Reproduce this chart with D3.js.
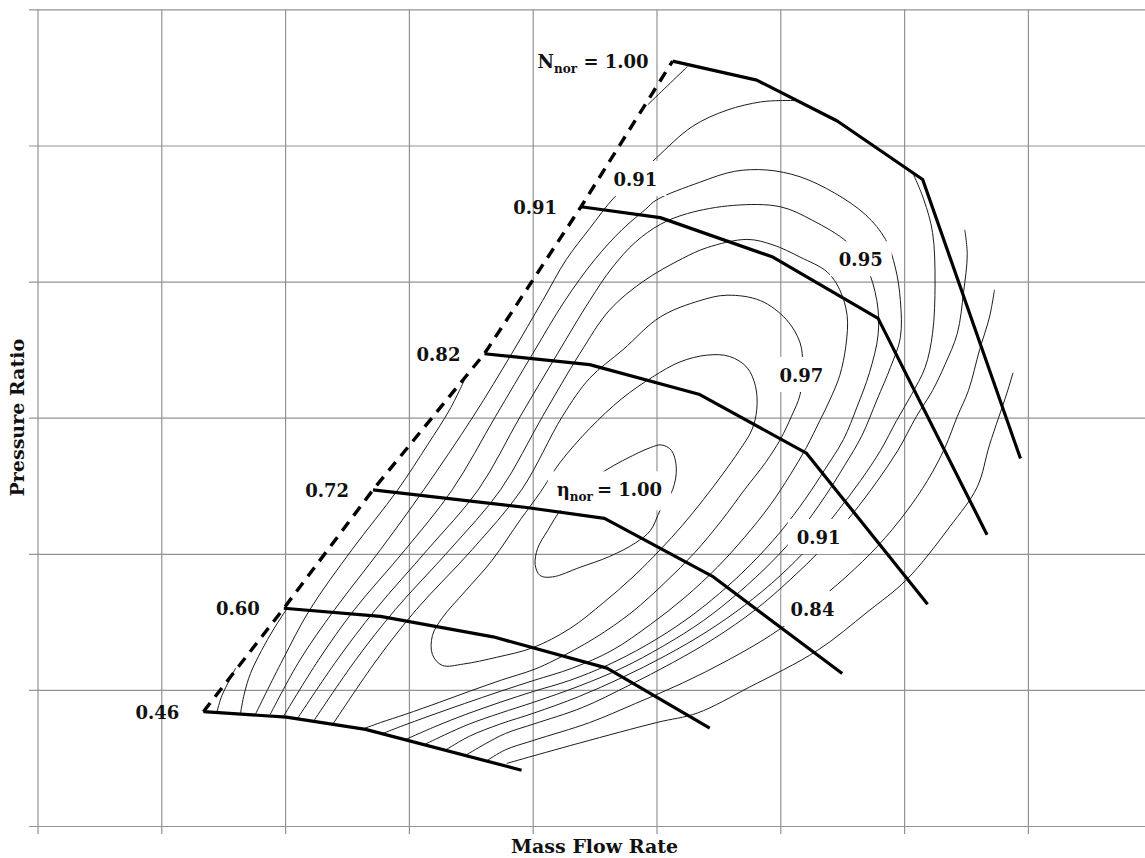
<!DOCTYPE html>
<html>
<head>
<meta charset="utf-8">
<script src="https://cdn.jsdelivr.net/npm/d3@7"></script>
<style>
  html, body { margin: 0; padding: 0; background: #fff; }
  svg { display: block; }
  text { font-family: "DejaVu Serif", serif; font-weight: bold; fill: #111; }
</style>
</head>
<body>
<svg id="chart" width="1145" height="858"></svg>
<script>
// Compressor map in grid units: mass flow 0–9, pressure ratio 0–6
const gridX = d3.range(0, 10);
const gridY = d3.range(0, 7);

// Constant-speed lines (normalized speed), left end sits on the surge line
const speedNames = ["0.46", "0.60", "0.72", "0.82", "0.91", "1.00"];
const speed046 = [[1.34,0.84],[2.01,0.80],[2.65,0.71],[3.91,0.41]];
const speed060 = [[1.99,1.60],[2.77,1.54],[3.68,1.39],[4.60,1.16],[5.43,0.72]];
const speed072 = [[2.71,2.47],[3.95,2.34],[4.58,2.26],[5.46,1.83],[6.50,1.12]];
const speed082 = [[3.61,3.47],[4.46,3.39],[5.35,3.17],[6.21,2.74],[7.19,1.63]];
const speed091 = [[4.39,4.55],[5.03,4.47],[5.94,4.18],[6.79,3.73],[7.67,2.14]];
const speed100 = [[5.13,5.62],[5.81,5.48],[6.46,5.18],[7.15,4.75],[7.94,2.70]];

// Efficiency islands (closed)
const eff100 = [[4.62,2.63],[4.76,2.70],[4.95,2.78],[5.04,2.80],[5.12,2.76],[5.16,2.63],[5.13,2.47],[5.03,2.32],[4.95,2.17],[4.83,2.08],[4.62,1.98],[4.38,1.90],[4.16,1.83],[4.06,1.84],[4.02,1.92],[4.04,2.04],[4.12,2.17],[4.24,2.34],[4.42,2.51]];
const eff099 = [[4.22,2.67],[4.46,2.92],[4.72,3.14],[4.97,3.30],[5.19,3.41],[5.41,3.46],[5.59,3.45],[5.73,3.37],[5.80,3.23],[5.81,3.06],[5.77,2.91],[5.67,2.76],[5.53,2.58],[5.38,2.40],[5.21,2.21],[5.03,2.03],[4.81,1.83],[4.57,1.64],[4.30,1.45],[4.00,1.31],[3.71,1.24],[3.44,1.19],[3.27,1.18],[3.19,1.26],[3.19,1.40],[3.27,1.53],[3.45,1.72],[3.67,1.95],[3.90,2.25],[4.06,2.45]];

// Efficiency contours open at the lowest speed line
const eff097 = [[2.38,0.74],[2.74,1.22],[3.06,1.59],[3.51,2.03],[3.91,2.47],[4.24,3.01],[4.46,3.29],[4.73,3.50],[5.03,3.74],[5.35,3.86],[5.57,3.90],[5.84,3.86],[6.05,3.72],[6.16,3.55],[6.18,3.39],[6.16,3.17],[6.09,3.01],[6.00,2.84],[5.88,2.67],[5.71,2.47],[5.53,2.25],[5.31,2.01],[5.07,1.79],[4.80,1.57],[4.50,1.38],[4.18,1.22],[4.01,1.15],[3.74,1.07],[3.49,0.99],[3.25,0.91],[2.97,0.82],[2.77,0.76],[2.62,0.71]];
const eff096 = [[2.23,0.77],[2.57,1.22],[2.89,1.59],[3.33,2.03],[3.74,2.47],[4.08,3.01],[4.38,3.47],[4.62,3.79],[4.89,4.00],[5.21,4.17],[5.41,4.25],[5.73,4.31],[5.94,4.27],[6.16,4.18],[6.38,4.07],[6.48,3.94],[6.54,3.75],[6.53,3.53],[6.48,3.31],[6.40,3.13],[6.32,2.98],[6.21,2.78],[6.08,2.58],[5.92,2.36],[5.71,2.12],[5.49,1.90],[5.23,1.68],[4.95,1.48],[4.64,1.29],[4.32,1.16],[4.01,1.07],[3.74,0.99],[3.45,0.90],[3.17,0.81],[2.93,0.73],[2.79,0.68]];
const eff095 = [[2.10,0.79],[2.42,1.22],[2.73,1.59],[3.15,2.03],[3.56,2.47],[3.90,3.01],[4.20,3.47],[4.46,3.86],[4.64,4.10],[4.83,4.29],[5.03,4.42],[5.25,4.50],[5.62,4.56],[6.00,4.55],[6.26,4.45],[6.54,4.29],[6.69,4.12],[6.78,3.86],[6.79,3.61],[6.72,3.33],[6.62,3.08],[6.51,2.84],[6.36,2.62],[6.20,2.40],[6.00,2.16],[5.77,1.93],[5.51,1.71],[5.23,1.51],[4.92,1.33],[4.60,1.18],[4.30,1.07],[4.01,0.99],[3.74,0.91],[3.46,0.82],[3.21,0.73],[2.96,0.63]];
const eff093 = [[1.99,0.81],[2.27,1.22],[2.56,1.59],[2.97,2.03],[3.35,2.47],[3.70,3.01],[4.00,3.47],[4.26,3.86],[4.50,4.16],[4.72,4.38],[4.91,4.53],[5.00,4.60],[5.35,4.73],[5.63,4.81],[5.89,4.82],[6.16,4.77],[6.44,4.65],[6.69,4.49],[6.85,4.31],[6.93,4.10],[6.97,3.86],[6.97,3.59],[6.89,3.37],[6.78,3.13],[6.66,2.87],[6.52,2.65],[6.36,2.42],[6.16,2.17],[5.93,1.94],[5.67,1.72],[5.38,1.51],[5.05,1.32],[4.72,1.16],[4.38,1.03],[4.01,0.91],[3.74,0.83],[3.49,0.75],[3.29,0.67],[3.13,0.60]];

// 0.91 contour is cut by the top speed line: low-flow part and high-flow part
const eff091Low = [[1.88,0.82],[2.12,1.22],[2.40,1.59],[2.77,2.03],[3.12,2.47],[3.52,3.01],[3.83,3.47],[4.08,3.86],[4.27,4.16],[4.46,4.39],[4.66,4.62],[4.83,4.76],[5.00,4.91],[5.29,5.14],[5.57,5.26],[5.84,5.32],[6.00,5.33],[6.13,5.33]];
const eff091High = [[7.07,4.80],[7.16,4.60],[7.23,4.36],[7.25,3.99],[7.23,3.62],[7.17,3.37],[7.06,3.17],[6.94,2.98],[6.81,2.76],[6.65,2.54],[6.46,2.31],[6.24,2.06],[6.00,1.84],[5.71,1.62],[5.41,1.43],[5.07,1.25],[4.72,1.09],[4.37,0.95],[4.01,0.83],[3.74,0.75],[3.49,0.66],[3.30,0.56]];

// Outer contours on the choke side
const eff088 = [[7.49,4.38],[7.51,4.20],[7.48,3.92],[7.43,3.62],[7.33,3.39],[7.23,3.20],[7.10,3.01],[6.95,2.76],[6.78,2.53],[6.58,2.29],[6.34,2.04],[6.08,1.81],[5.80,1.59],[5.47,1.38],[5.13,1.20],[4.77,1.03],[4.40,0.87],[4.01,0.75],[3.78,0.68],[3.61,0.60],[3.46,0.52]];
const eff084 = [[7.73,3.94],[7.69,3.74],[7.61,3.50],[7.52,3.20],[7.43,3.01],[7.33,2.78],[7.19,2.54],[7.01,2.30],[6.79,2.06],[6.53,1.83],[6.24,1.61],[5.92,1.40],[5.58,1.22],[5.21,1.05],[4.83,0.90],[4.46,0.76],[4.01,0.63],[3.78,0.56],[3.63,0.48]];
const eff080 = [[7.88,3.33],[7.83,3.18],[7.69,2.80],[7.59,2.49],[7.37,2.20],[7.02,1.81],[6.70,1.57],[6.30,1.29],[5.75,1.02],[5.33,0.83],[5.00,0.76],[4.38,0.61],[3.79,0.46]];

// Short contours ending on the surge line
const effSurgeA = [[1.45,0.84],[1.49,0.96],[1.55,1.07],[1.60,1.16]];
const effSurgeB = [[1.64,0.83],[1.67,0.97],[1.72,1.12],[1.81,1.29],[1.91,1.45],[2.01,1.59]];
const effSurgeC = [[1.76,0.82],[1.98,1.22],[2.20,1.59],[2.54,2.03],[2.91,2.47],[3.15,2.80],[3.33,3.06],[3.45,3.28]];
const effSurgeD = [[5.25,5.58],[5.09,5.44],[4.93,5.30]];

// Contour labels (value text and where it sits)
const effLabelText = ["0.91", "0.95", "0.97", "1.00", "0.91", "0.84"];
const effLabelX = [4.83, 6.65, 6.17, 4.62, 6.31, 6.26];
const effLabelY = [4.75, 4.16, 3.31, 2.47, 2.12, 1.59];

const W = 1145, H = 858;
const svg = d3.select("#chart");
const x = d3.scaleLinear().domain([0, 9]).range([37.5, 1151.7]);
const y = d3.scaleLinear().domain([0, 6]).range([826, 9.4]);

// ---- grid (ticks extend a little beyond the frame) ----
const gY = svg.append("g")
  .attr("transform", `translate(${x(0) - 8.5},0)`)
  .call(d3.axisLeft(y).tickValues(gridY).tickSize(-(W + 20)).tickFormat(""));
gY.select(".domain").remove();
const gX = svg.append("g")
  .attr("transform", `translate(0,${y(0) + 8})`)
  .call(d3.axisBottom(x).tickValues(gridX).tickSize(-(y(0) + 8 - y(6))).tickFormat(""));
gX.select(".domain").remove();
svg.selectAll(".tick line").attr("stroke", "#939393").attr("stroke-width", 1.2);

// ---- efficiency contours ----
const openLine = d3.line().x(d => x(d[0])).y(d => y(d[1])).curve(d3.curveCatmullRom.alpha(0.5));
const closedLine = d3.line().x(d => x(d[0])).y(d => y(d[1])).curve(d3.curveCatmullRomClosed.alpha(0.5));

const closedContours = [eff100, eff099];
const openContours = [eff097, eff096, eff095, eff093, eff091Low, eff091High, eff088, eff084, eff080,
                      effSurgeA, effSurgeB, effSurgeC, effSurgeD];

const gc = svg.append("g").attr("fill", "none").attr("stroke", "#1c1c1c").attr("stroke-width", 1);
gc.selectAll("path.closed").data(closedContours).join("path").attr("class", "closed").attr("d", closedLine);
gc.selectAll("path.open").data(openContours).join("path").attr("class", "open").attr("d", openLine);

// ---- contour labels on white patches ----
const gl = svg.append("g");
effLabelText.forEach((t, i) => {
  const g = gl.append("g");
  const txt = g.append("text")
    .attr("x", x(effLabelX[i]))
    .attr("y", y(effLabelY[i]))
    .attr("dy", "0.36em")
    .attr("text-anchor", "middle")
    .attr("font-size", 18);
  if (t === "1.00") {
    txt.append("tspan").text("\u03B7");
    txt.append("tspan").attr("font-size", 12).attr("dy", 5).text("nor");
    txt.append("tspan").attr("dy", -5).attr("dx", 4).text("= " + t);
  } else {
    txt.text(t);
  }
  const bb = txt.node().getBBox();
  g.insert("rect", () => txt.node())
    .attr("x", bb.x - 9).attr("y", bb.y - 8)
    .attr("width", bb.width + 18).attr("height", bb.height + 14)
    .attr("fill", "#fff");
});

// ---- speed lines and surge line ----
const speedLines = [speed046, speed060, speed072, speed082, speed091, speed100];
const straight = d3.line().x(d => x(d[0])).y(d => y(d[1]));

svg.append("g").attr("fill", "none").attr("stroke", "#000").attr("stroke-width", 3.2)
  .attr("stroke-linejoin", "round")
  .selectAll("path").data(speedLines).join("path").attr("d", straight);

const surge = speedLines.map(s => s[0]);
svg.append("path").datum(surge)
  .attr("d", straight)
  .attr("fill", "none").attr("stroke", "#000").attr("stroke-width", 3.4)
  .attr("stroke-dasharray", "11,8");

// ---- speed labels at the surge end of each line ----
const gs = svg.append("g");
speedLines.forEach((s, i) => {
  const t = gs.append("text")
    .attr("x", x(s[0][0]) - 24)
    .attr("y", y(s[0][1]) + 7)
    .attr("text-anchor", "end")
    .attr("font-size", 18);
  if (i === speedLines.length - 1) {
    t.append("tspan").text("N");
    t.append("tspan").attr("font-size", 12).attr("dy", 5).text("nor");
    t.append("tspan").attr("dy", -5).text(" = " + speedNames[i]);
  } else {
    t.text(speedNames[i]);
  }
});

// ---- axis titles ----
svg.append("text")
  .attr("x", x(4.5)).attr("y", 853)
  .attr("text-anchor", "middle").attr("font-size", 19)
  .text("Mass Flow Rate");
svg.append("text")
  .attr("transform", `translate(24,${y(3)}) rotate(-90)`)
  .attr("text-anchor", "middle").attr("font-size", 19)
  .text("Pressure Ratio");
</script>
</body>
</html>
